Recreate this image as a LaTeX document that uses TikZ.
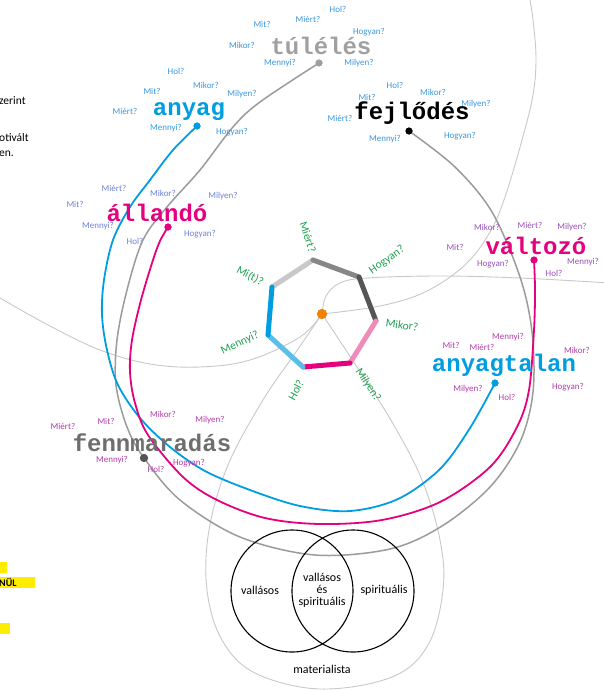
\documentclass[tikz,border=0pt]{standalone}
\usepackage{fontspec}
\setmainfont{Carlito}
\newfontfamily\monofam{Liberation Mono}
\definecolor{cblue}{RGB}{0,158,224}
\definecolor{cmag}{RGB}{229,0,126}
\definecolor{qblue}{RGB}{58,150,222}
\definecolor{qviol}{RGB}{110,130,215}
\definecolor{qpurp}{RGB}{150,80,185}
\definecolor{qmag}{RGB}{180,60,170}
\definecolor{cgreen}{RGB}{30,160,80}
\definecolor{lgray}{RGB}{200,200,200}
\definecolor{mgray}{RGB}{155,155,155}
\definecolor{wgray}{RGB}{160,160,160}
\definecolor{dgray}{RGB}{110,110,110}
\definecolor{ddot}{RGB}{85,85,85}
\definecolor{corange}{RGB}{240,130,0}
\definecolor{hlyellow}{RGB}{255,237,0}
\definecolor{hx1}{RGB}{200,200,200}
\definecolor{hx2}{RGB}{135,135,135}
\definecolor{hx3}{RGB}{85,85,85}
\definecolor{hx4}{RGB}{240,140,185}
\definecolor{hx5}{RGB}{229,0,126}
\definecolor{hx6}{RGB}{90,190,235}
\definecolor{hx7}{RGB}{0,158,224}
\begin{document}
\begin{tikzpicture}[x=1pt,y=-1pt,
  word/.style={font=\monofam\bfseries\fontsize{24}{24}\selectfont, inner sep=0},
  q/.style={font=\fontsize{9}{10}\selectfont, inner sep=0},
  hq/.style={font=\fontsize{11.5}{12}\selectfont, text=cgreen, inner sep=0},
  dot/.style={circle, inner sep=0, minimum size=7pt},
  bigarc/.style={line width=1.8pt},
  lg/.style={draw=lgray, line width=0.9pt},
  hedge/.style={line width=5pt, line cap=round},
  venn/.style={circle, draw=black, line width=1.1pt, minimum size=122pt, inner sep=0},
  vt/.style={font=\fontsize{12}{13}\selectfont, align=center, inner sep=0},
  frag/.style={font=\fontsize{11.5}{12}\selectfont, inner sep=0, anchor=west}
]
\useasboundingbox (0,0) rectangle (604,690);

% centre
\node[circle, fill=corange, inner sep=0, minimum size=10pt] (ctr) at (322,314) {};

% light gray curves
\draw[lg] plot[smooth, tension=0.6] coordinates {(ctr.center) (296,352) (263,400) (228,465) (209,530) (207,590) (222,640) (255,673) (320,689) (392,677) (428,645) (443,590) (440,540) (422,480) (392,422) (357,367) (ctr.center)};
\draw[lg] plot[smooth, tension=0.6] coordinates {(ctr.center) (300,337) (250,360) (200,367) (150,364) (100,350) (50,326) (7,302) (-6,294)};
\draw[lg] plot[smooth, tension=0.6] coordinates {(ctr.center) (326,296) (340,283) (367,278) (440,276) (520,278) (610,283)};
\draw[lg] plot[smooth, tension=0.6] coordinates {(ctr.center) (380,306) (425,292) (465,265) (490,232) (505,197) (522,140) (533,95) (536,58) (533,20) (529,-6)};

% dots
\node[dot, fill=wgray] (dtul) at (319,63) {};
\node[dot, fill=cblue] (dany) at (197,126) {};
\node[dot, fill=black] (dfej) at (409,131) {};
\node[dot, fill=cmag] (dall) at (168,227) {};
\node[dot, fill=cmag] (dval) at (534,260) {};
\node[dot, fill=cblue] (dant) at (495,383) {};
\node[dot, fill=ddot, minimum size=8pt] (dfen) at (144,458) {};

% big arcs
\draw[bigarc, mgray, line width=1.5pt] plot[smooth, tension=0.55] coordinates {(dtul.center) (260,102) (233,127) (200,170) (167,207) (143,240) (127,290) (117,340) (116,385) (127,427) (dfen.center) (180,500) (240,537) (315,555) (390,549) (442,526) (490,487) (520,442) (533,392) (532,332) (520,277) (492,212) (455,167) (dfej.center)};
\draw[bigarc, cblue] plot[smooth, tension=0.55] coordinates {(dany.center) (173,150) (150,180) (130,207) (113,240) (104,280) (102,315) (107,350) (118,385) (140,418) (170,447) (205,471) (250,490) (300,506) (350,511) (398,499) (440,469) (470,428) (dant.center)};
\draw[bigarc, cmag] plot[smooth, tension=0.55] coordinates {(dall.center) (160,241) (153,260) (141,300) (132,340) (130,372) (135,403) (148,435) (183,477) (217,500) (265,518) (320,524) (382,520) (440,502) (490,467) (517,427) (529,390) (534,330) (535,290) (dval.center)};

% redraw dots on top
\node[dot, fill=wgray] at (dtul) {};
\node[dot, fill=cblue] at (dany) {};
\node[dot, fill=black] at (dfej) {};
\node[dot, fill=cmag] at (dall) {};
\node[dot, fill=cmag] at (dval) {};
\node[dot, fill=cblue] at (dant) {};
\node[dot, fill=ddot, minimum size=8pt] at (dfen) {};

% heptagon
\coordinate (h1) at (313,260);
\coordinate (h2) at (359,277);
\coordinate (h3) at (376,321);
\coordinate (h4) at (350,363);
\coordinate (h5) at (303,367);
\coordinate (h6) at (268,335);
\coordinate (h7) at (272,287);
\draw[hedge, hx1] (h7) -- (h1);
\draw[hedge, hx2] (h1) -- (h2);
\draw[hedge, hx3] (h2) -- (h3);
\draw[hedge, hx4] (h3) -- (h4);
\draw[hedge, hx5] (h4) -- (h5);
\draw[hedge, hx6] (h5) -- (h6);
\draw[hedge, hx7] (h6) -- (h7);
\node[circle, fill=corange, inner sep=0, minimum size=10pt] at (ctr) {};

% heptagon labels
\node[hq, rotate=-72] (g1) at (308,237) {Miért?};
\node[hq, rotate=35] (g2) at (387,260) {Hogyan?};
\node[hq, rotate=-8] (g3) at (402,325) {Mikor?};
\node[hq, rotate=-57] (g4) at (368,385) {Milyen?};
\node[hq, rotate=62] (g5) at (296,390) {Hol?};
\node[hq, rotate=25] (g6) at (240,343) {Mennyi?};
\node[hq, rotate=-28] (g7) at (250,276) {Mi(t)?};

% big words
\node[word, text=wgray] (wtul) at (321,46) {túlélés};
\node[word, text=cblue] (wany) at (189,112) {anyag};
\node[word, text=black] (wfej) at (412,113) {fejlődés};
\node[word, text=cmag] (wall) at (157,213) {állandó};
\node[word, text=cmag] (wval) at (536,246) {változó};
\node[word, text=cblue] (want) at (504,365) {anyagtalan};
\node[word, text=dgray] (wfen) at (152,443) {fennmaradás};

% túlélés cluster
\begin{scope}[every node/.style={q, text=qblue}]
\node (t1) at (338,9) {Hol?};
\node (t2) at (308,19) {Miért?};
\node (t3) at (262,24) {Mit?};
\node (t4) at (369,32) {Hogyan?};
\node (t5) at (242,45) {Mikor?};
\node (t6) at (280,63) {Mennyi?};
\node (t7) at (359,63) {Milyen?};
% anyag
\node (a1) at (176,71) {Hol?};
\node (a2) at (152,91) {Mit?};
\node (a3) at (206,85) {Mikor?};
\node (a4) at (242,94) {Milyen?};
\node (a5) at (125,111) {Miért?};
\node (a6) at (166,128) {Mennyi?};
\node (a7) at (232,132) {Hogyan?};
% fejlődés
\node (f1) at (395,85) {Hol?};
\node (f2) at (367,97) {Mit?};
\node (f3) at (433,92) {Mikor?};
\node (f4) at (476,104) {Milyen?};
\node (f5) at (340,118) {Miért?};
\node (f6) at (385,139) {Mennyi?};
\node (f7) at (460,136) {Hogyan?};
\end{scope}
\begin{scope}[every node/.style={q, text=qviol}]
\node (l1) at (114,188) {Miért?};
\node (l2) at (75,204) {Mit?};
\node (l3) at (163,193) {Mikor?};
\node (l4) at (223,196) {Milyen?};
\node (l5) at (98,226) {Mennyi?};
\node (l6) at (135,241) {Hol?};
\node (l7) at (200,234) {Hogyan?};
\end{scope}
\begin{scope}[every node/.style={q, text=qpurp}]
\node (v1) at (487,227) {Mikor?};
\node (v2) at (530,225) {Miért?};
\node (v3) at (572,227) {Milyen?};
\node (v4) at (455,247) {Mit?};
\node (v5) at (493,264) {Hogyan?};
\node (v6) at (583,262) {Mennyi?};
\node (v7) at (554,273) {Hol?};
\end{scope}
\begin{scope}[every node/.style={q, text=qmag}]
\node (n1) at (508,337) {Mennyi?};
\node (n2) at (451,345) {Mit?};
\node (n3) at (482,347) {Miért?};
\node (n4) at (577,350) {Mikor?};
\node (n5) at (468,389) {Milyen?};
\node (n6) at (507,397) {Hol?};
\node (n7) at (568,387) {Hogyan?};
% fennmaradás
\node (m1) at (63,426) {Miért?};
\node (m2) at (106,421) {Mit?};
\node (m3) at (163,414) {Mikor?};
\node (m4) at (210,420) {Milyen?};
\node (m5) at (112,460) {Mennyi?};
\node (m6) at (156,469) {Hol?};
\node (m7) at (189,463) {Hogyan?};
\end{scope}

% Venn
\node[venn] (vl) at (292,591) {};
\node[venn] (vr) at (353,591) {};
\node[vt] (tv1) at (260,590) {vallásos};
\node[vt] (tv2) at (322,590) {vallásos\\[-1pt]és\\[-1pt]spirituális};
\node[vt] (tv3) at (384,590) {spirituális};
\node[vt] (tv4) at (322,669) {materialista};

% cut-off page fragments
\node[frag] (x1) at (-1,101) {zerint};
\node[frag] (x2) at (-1,138) {otivált};
\node[frag] (x3) at (-1,154) {en.};
\fill[hlyellow] (0,562) rectangle (7,573);
\fill[hlyellow] (0,577) rectangle (35,588);
\fill[hlyellow] (0,623) rectangle (10,634);
\node[font=\bfseries\fontsize{10}{11}\selectfont, inner sep=0, anchor=west] (x4) at (-1,582) {NÜL};
\end{tikzpicture}
\end{document}
